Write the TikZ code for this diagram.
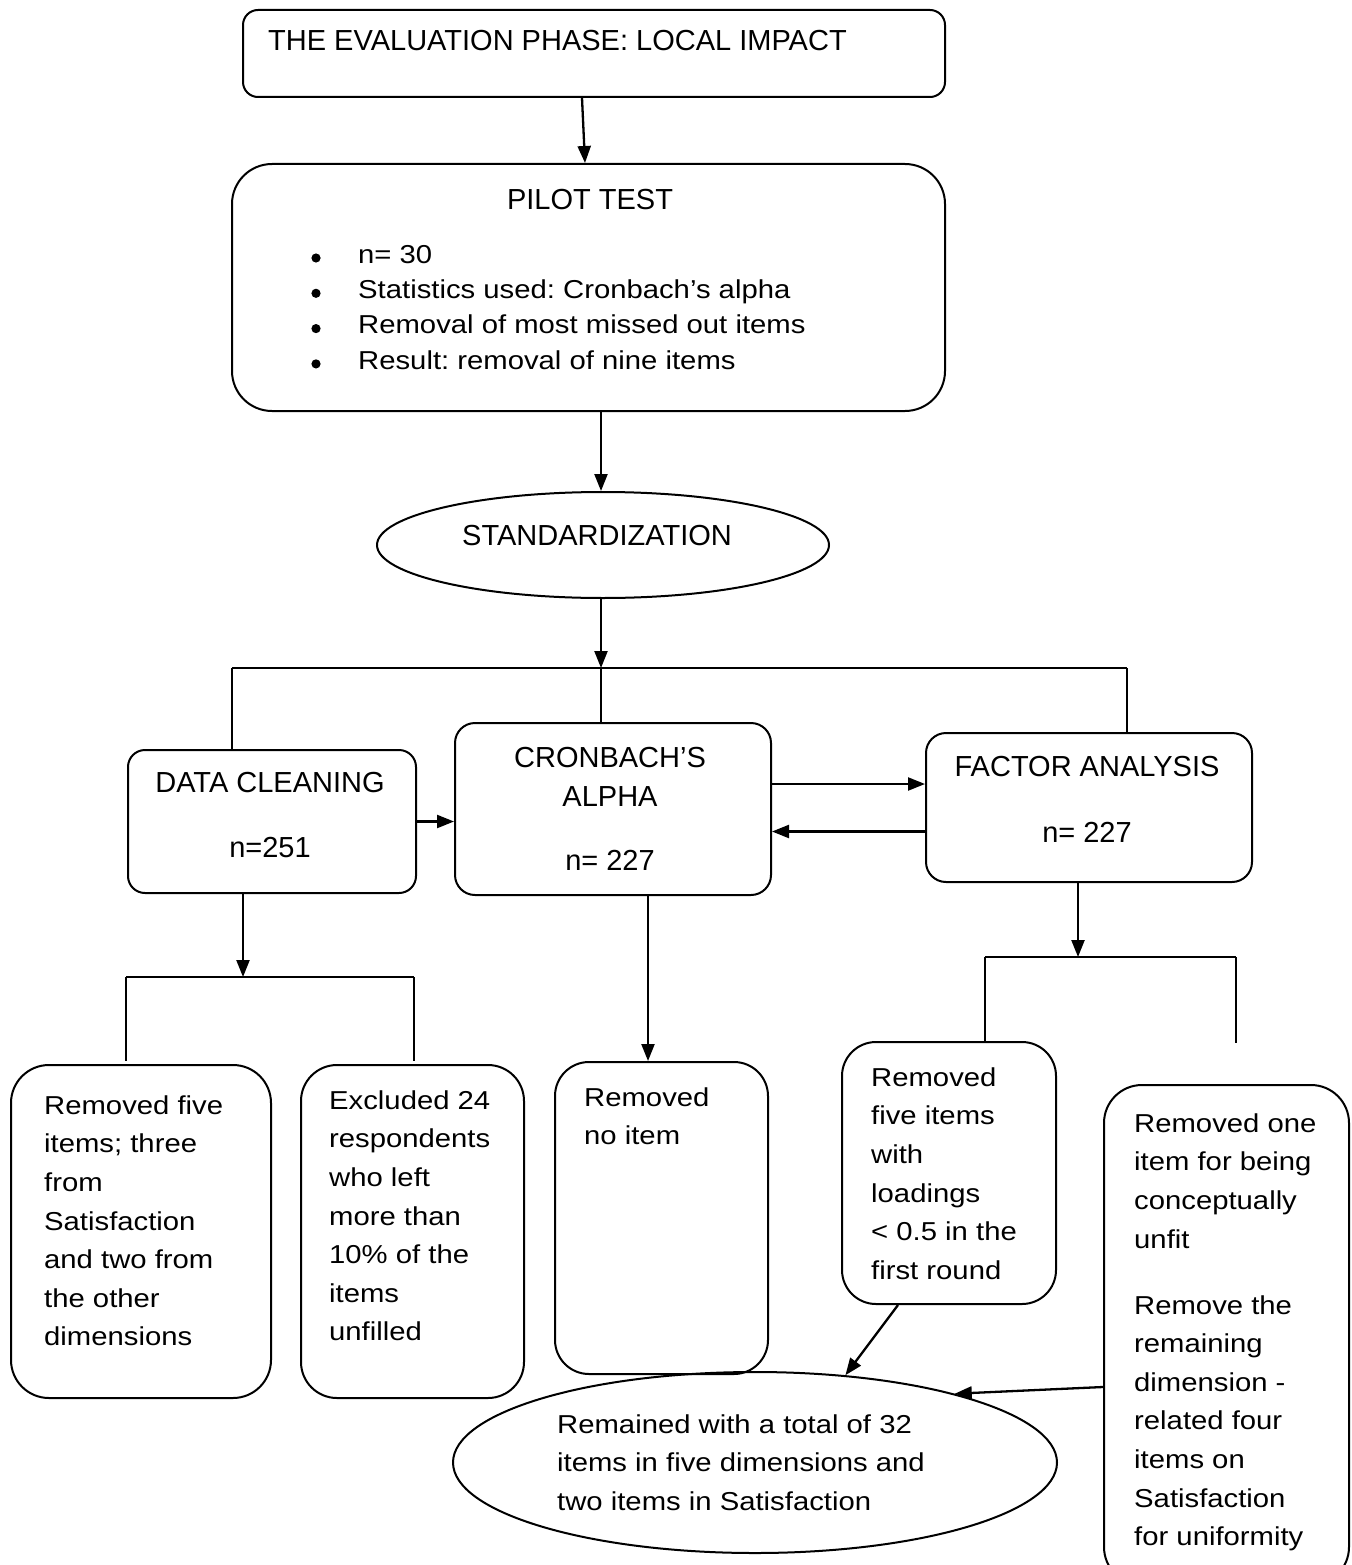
\documentclass[tikz,border=0pt]{standalone}
\usepackage{fontspec}
\setmainfont{Liberation Sans}
\newfontfamily\widefont{Liberation Sans}[FakeStretch=1.13]
\usetikzlibrary{arrows.meta,shapes.geometric}
\frenchspacing
\begin{document}
\begin{tikzpicture}[x=1pt,y=-1pt,
  bx/.style={draw, line width=2pt, inner sep=0pt, rounded corners=#1},
  ell/.style={draw, ellipse, line width=2pt, inner sep=0pt},
  hd/.style={inner sep=0pt, font=\fontsize{29}{35}\selectfont},
  bd/.style={inner sep=0pt, align=left, anchor=north west, font=\widefont\fontsize{25.9}{38.6}\selectfont},
  bl/.style={inner sep=0pt, align=left, anchor=north west, font=\widefont\fontsize{25.9}{35.3}\selectfont},
  arr/.style={line width=2.3pt, -{Triangle[length=17pt,width=13pt]}},
  ln/.style={line width=1.6pt}]
\useasboundingbox (0,0) rectangle (1351,1565);
\clip (0,0) rectangle (1351,1565);
\fill[white] (0,0) rectangle (1351,1565);

% boxes
\node[bx=15pt, minimum width=702pt, minimum height=87pt] (title) at (594,53.5) {};
\node[bx=40pt, minimum width=713pt, minimum height=247pt] (pilot) at (588.5,287.5) {};
\node[ell, minimum width=452pt, minimum height=106pt] (std) at (603,545) {};
\node[bx=17pt, minimum width=288pt, minimum height=143pt] (data) at (272,821.5) {};
\node[bx=20pt, minimum width=316pt, minimum height=172pt] (cron) at (613,809) {};
\node[bx=20pt, minimum width=326pt, minimum height=149pt] (factor) at (1089,807.5) {};
\node[bx=38pt, minimum width=260pt, minimum height=333pt] (boxA) at (141,1231.5) {};
\node[bx=36pt, minimum width=223pt, minimum height=333pt] (boxB) at (412.5,1231.5) {};
\node[bx=34pt, minimum width=213pt, minimum height=312pt] (boxC) at (661.5,1218) {};
\node[bx=34pt, minimum width=214pt, minimum height=262pt] (boxD) at (949,1173) {};
\node[bx=38pt, minimum width=245pt, minimum height=500pt] (boxE) at (1226.5,1335) {};
\node[ell, minimum width=604pt, minimum height=181pt] (final) at (755,1462.5) {};

% texts
\node[hd, anchor=base west] (ttitle) at (268,51) {THE EVALUATION PHASE: LOCAL IMPACT};
\node[hd, anchor=base] (tpilot) at (590,210) {PILOT TEST};
\node[bl] (tbul) at (358,241) {\rule{0pt}{22pt}n= 30\\Statistics used: Cronbach’s alpha\\Removal of most missed out items\\Result: removal of nine items};
\foreach \yy in {258,293.3,328.6,363.9} \fill (316,\yy) circle (4.6pt);
\node[hd, anchor=base] (tstd) at (597,545) {STANDARDIZATION};
\node[hd, anchor=base] (tdata1) at (270,792) {DATA CLEANING};
\node[hd, anchor=base] (tdata2) at (270,857) {n=251};
\node[hd, anchor=base] (tcron1) at (610,767) {CRONBACH’S};
\node[hd, anchor=base] (tcron2) at (610,806) {ALPHA};
\node[hd, anchor=base] (tcron3) at (610,870) {n= 227};
\node[hd, anchor=base] (tfac1) at (1087,776) {FACTOR ANALYSIS};
\node[hd, anchor=base] (tfac2) at (1087,842) {n= 227};
\node[bd] (tA) at (44,1092) {\rule{0pt}{22pt}Removed five\\items; three\\from\\Satisfaction\\and two from\\the other\\dimensions};
\node[bd] (tB) at (329,1087) {\rule{0pt}{22pt}Excluded 24\\respondents\\who left\\more than\\10\% of the\\items\\unfilled};
\node[bd] (tC) at (584,1084) {\rule{0pt}{22pt}Removed\\no item};
\node[bd] (tD) at (871,1064) {\rule{0pt}{22pt}Removed\\five items\\with\\loadings\\< 0.5 in the\\first round};
\node[bd] (tE) at (1134,1110) {\rule{0pt}{22pt}Removed one\\item for being\\conceptually\\unfit\\[27.4pt]Remove the\\remaining\\dimension -\\related four\\items on\\Satisfaction\\for uniformity};
\node[bd] (tF) at (557,1411) {\rule{0pt}{22pt}Remained with a total of 32\\items in five dimensions and\\two items in Satisfaction};

% connectors
\draw[arr] ([xshift=-12pt]title.south) -- ([xshift=-3.5pt]pilot.north);
\draw[arr] ([xshift=12.5pt]pilot.south) -- ([xshift=-2pt]std.north);

\coordinate (hL) at (232,668);
\coordinate (hM) at (601,668);
\coordinate (hR) at (1127,668);
\draw[arr] (hM |- std.south) -- (hM);
\draw[ln] (hL) -- (hR);
\draw[ln] (hL) -- (hL |- data.north);
\draw[ln] (hM) -- (hM |- cron.north);
\draw[ln] (hR) -- (hR |- factor.north);

\draw[arr] (data.east) -- (data.east -| cron.west);
\coordinate (a1) at ([yshift=25pt]cron.east);
\draw[arr] (a1) -- (a1 -| factor.west);
\coordinate (a2) at ([yshift=-24pt]factor.west);
\draw[arr] (a2) -- (a2 -| cron.east);

\coordinate (dM) at (243,977);
\coordinate (dL) at (126,977);
\coordinate (dR) at (414,977);
\draw[arr] (dM |- data.south) -- (dM);
\draw[ln] (dL) -- (dR);
\draw[ln] (dL) -- ([yshift=3pt]dL |- boxA.north);
\draw[ln] (dR) -- ([yshift=3pt]dR |- boxB.north);

\coordinate (cD) at (648,0);
\draw[arr] (cD |- cron.south) -- (cD |- boxC.north);

\coordinate (fM) at (1078,957);
\coordinate (fL) at (985,957);
\coordinate (fR) at (1236,957);
\coordinate (fE) at (1236,1043);
\draw[arr] (fM |- factor.south) -- (fM);
\draw[ln] (fL) -- (fR);
\draw[ln] (fL) -- (fL |- boxD.north);
\draw[ln] (fR) -- (fE);

\coordinate (dS) at (898,0);
\draw[arr] (dS |- boxD.south) -- (final.44);
\draw[arr] ([yshift=-52pt]boxE.west) -- (final.19);
\end{tikzpicture}
\end{document}
